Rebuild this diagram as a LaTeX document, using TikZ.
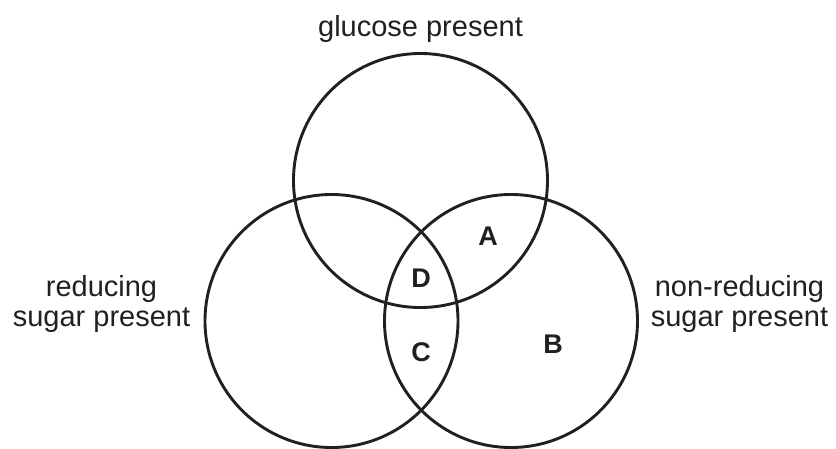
\documentclass[tikz,border=0pt]{standalone}
\usepackage{fontspec}
\setmainfont{Liberation Sans}
\definecolor{ink}{HTML}{231F20}
\begin{document}
\begin{tikzpicture}[x=1pt,y=-1pt,
  ring/.style={draw=ink,line width=2.9pt},
  lbl/.style={text=ink,font=\fontsize{29}{30}\selectfont,inner sep=0pt,anchor=base,align=center},
  zone/.style={text=ink,font=\fontsize{27}{28}\selectfont\bfseries,inner sep=0pt,anchor=center}]
\useasboundingbox (0,0) rectangle (836,448);
\coordinate (ctop) at (420.5,180.5);
\coordinate (cleft) at (331.5,321);
\coordinate (cright) at (511,321);
\draw[ring] (ctop) circle (127pt);
\draw[ring] (cleft) circle (126.5pt);
\draw[ring] (cright) circle (126.5pt);
\node[lbl] (glu) at (420.5,36) {glucose present};
\node[lbl] (red) at (101.5,326.5) {reducing\\sugar present};
\node[lbl] (nonred) at (739.5,326.5) {non-reducing\\sugar present};
\node[zone] (A) at (488,236) {A};
\node[zone] (B) at (553,344) {B};
\node[zone] (C) at (421,351.7) {C};
\node[zone] (D) at (421,278) {D};
\end{tikzpicture}
\end{document}
